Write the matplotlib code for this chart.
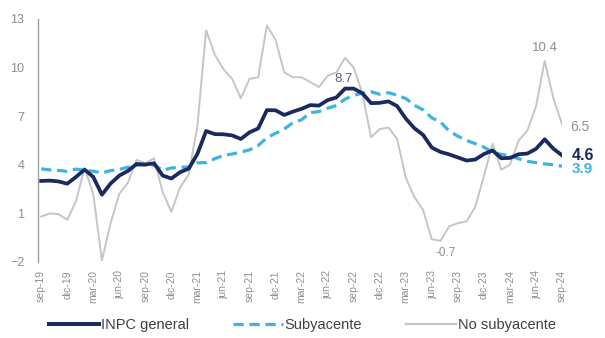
import matplotlib
matplotlib.use("Agg")
import matplotlib.pyplot as plt
from matplotlib.lines import Line2D

plt.rcParams['font.family'] = ['Liberation Sans', 'DejaVu Sans']

# Monthly periods, sep-2019 .. sep-2024
meses = ["ene", "feb", "mar", "abr", "may", "jun", "jul", "ago", "sep", "oct", "nov", "dic"]
periodos = []
for anio in range(2019, 2025):
    for m_i, m in enumerate(meses):
        if (anio == 2019 and m_i < 8) or (anio == 2024 and m_i > 8):
            continue
        periodos.append(f"{m}-{str(anio)[2:]}")
tick_labels = periodos[::3]

# Annual inflation (%)
inpc_general = [
    3.00, 3.02, 2.97, 2.83,
    3.24, 3.70, 3.25, 2.15, 2.84, 3.33, 3.62, 4.05, 4.01, 4.09, 3.33, 3.15,
    3.54, 3.76, 4.67, 6.08, 5.89, 5.88, 5.81, 5.59, 6.00, 6.24, 7.37, 7.36,
    7.07, 7.28, 7.45, 7.68, 7.65, 7.99, 8.15, 8.70, 8.70, 8.41, 7.80, 7.82,
    7.91, 7.62, 6.85, 6.25, 5.84, 5.06, 4.79, 4.64, 4.45, 4.26, 4.32, 4.66,
    4.88, 4.40, 4.42, 4.65, 4.69, 4.98, 5.57, 4.99, 4.58,
]
subyacente = [
    3.75, 3.68, 3.65, 3.59,
    3.73, 3.66, 3.60, 3.50, 3.64, 3.71, 3.85, 3.97, 3.99, 3.98, 3.66, 3.80,
    3.84, 3.87, 4.12, 4.13, 4.37, 4.58, 4.66, 4.78, 4.92, 5.19, 5.67, 5.94,
    6.21, 6.59, 6.78, 7.22, 7.28, 7.49, 7.65, 8.05, 8.28, 8.42, 8.51, 8.35,
    8.45, 8.29, 8.09, 7.67, 7.39, 6.89, 6.64, 6.08, 5.76, 5.50, 5.30, 5.09,
    4.76, 4.64, 4.55, 4.37, 4.21, 4.13, 4.05, 4.00, 3.91,
]
no_subyacente = [
    0.80, 1.00, 0.95, 0.60,
    1.73, 3.80, 2.20, -1.90, 0.40, 2.20, 2.90, 4.30, 4.10, 4.40, 2.30, 1.10,
    2.60, 3.40, 6.40, 12.30, 10.80, 9.90, 9.30, 8.10, 9.30, 9.40, 12.60, 11.70,
    9.70, 9.40, 9.40, 9.10, 8.80, 9.50, 9.70, 10.60, 10.00, 8.40, 5.70, 6.20,
    6.30, 5.60, 3.20, 2.00, 1.20, -0.60, -0.70, 0.20, 0.40, 0.50, 1.40, 3.30,
    5.30, 3.70, 4.00, 5.50, 6.10, 7.60, 10.40, 8.10, 6.50,
]

c_navy = "#1b2a5e"
c_blue = "#3db4e2"
c_gray = "#c6c6c6"
c_text = "#8f8f8f"

fig = plt.figure(figsize=(6.05, 3.38), dpi=100)
ax = fig.add_axes([0.063, 0.225, 0.866, 0.719])

x = list(range(len(periodos)))
ax.plot(x, no_subyacente, color=c_gray, lw=1.4, zorder=1)
ax.plot(x, subyacente, color=c_blue, lw=2.3, dashes=(3.2, 1.8), zorder=2)
ax.plot(x, inpc_general, color=c_navy, lw=2.7, zorder=3)

ax.set_xlim(-0.35, len(periodos) - 1)
ax.set_ylim(-2, 13)
ax.set_yticks([-2, 1, 4, 7, 10, 13])
ax.set_xticks(x[::3])
ax.set_xticklabels(tick_labels, rotation=90, fontsize=7.5, color=c_text)
ax.tick_params(axis='y', length=0, pad=10, labelsize=9, labelcolor=c_text)
ax.tick_params(axis='x', length=0, pad=6)

for s in ["top", "right", "bottom"]:
    ax.spines[s].set_visible(False)
ax.spines["left"].set_color("#a0a0a0")
ax.spines["left"].set_linewidth(1.0)

# Point labels
i_max = inpc_general.index(max(inpc_general[30:40]))
ax.annotate(f"{inpc_general[i_max]:.1f}", (i_max, inpc_general[i_max]),
            xytext=(-1, 5), textcoords="offset points", ha="center",
            fontsize=9.5, color="#5a6378")
i_pk = len(periodos) - 3
ax.annotate(f"{no_subyacente[i_pk]:.1f}", (i_pk, no_subyacente[i_pk]),
            xytext=(0, 7), textcoords="offset points", ha="center",
            fontsize=9.5, color=c_text)
i_lo = no_subyacente.index(min(no_subyacente[40:]))
ax.annotate(f"{no_subyacente[i_lo]:.1f}", (i_lo, no_subyacente[i_lo]),
            xytext=(4, -11), textcoords="offset points", ha="center",
            fontsize=8.5, color=c_text)
i_end = len(periodos) - 1
ax.annotate(f"{no_subyacente[i_end]:.1f}", (i_end, no_subyacente[i_end]),
            xytext=(6, -2), textcoords="offset points", ha="left", va="center",
            fontsize=10, color=c_text, annotation_clip=False)
ax.annotate(f"{inpc_general[i_end]:.1f}", (i_end, inpc_general[i_end]),
            xytext=(7, 0), textcoords="offset points", ha="left", va="center",
            fontsize=11.5, fontweight="bold", color=c_navy, annotation_clip=False)
ax.annotate(f"{subyacente[i_end]:.1f}", (i_end, subyacente[i_end]),
            xytext=(7, -2), textcoords="offset points", ha="left", va="center",
            fontsize=11, fontweight="bold", color=c_blue, annotation_clip=False)

handles = [
    Line2D([], [], color=c_navy, lw=2.9),
    Line2D([], [], color=c_blue, lw=2.3, dashes=(3.2, 1.8)),
    Line2D([], [], color=c_gray, lw=1.6),
]
fig.legend(handles, ["INPC general", "Subyacente", "No subyacente"],
           loc="center", bbox_to_anchor=(0.5, 0.038), ncol=3, frameon=False,
           fontsize=10.5, handlelength=3.4, handletextpad=0.15,
           columnspacing=3.0, labelcolor="#404040")

fig.savefig("out.png", dpi=100)
